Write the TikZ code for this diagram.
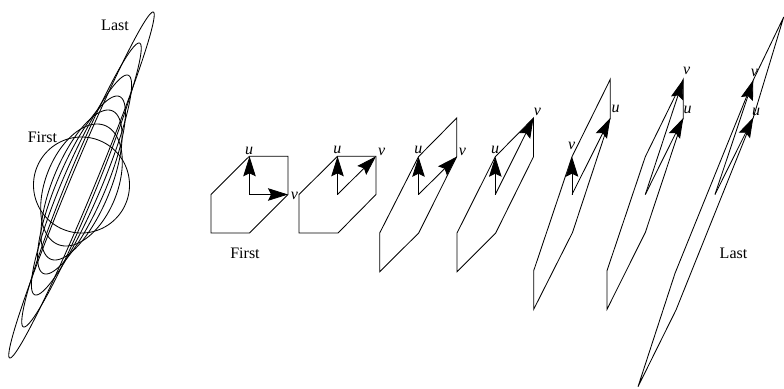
\documentclass[tikz,border=0pt]{standalone}
\usepackage{fontspec}
\setmainfont{Liberation Serif}
\usetikzlibrary{arrows.meta}
\tikzset{
  outline/.style={line width=0.85pt,line join=miter},
  vec/.style={line width=0.85pt,-{Stealth[length=20pt,width=12.5pt,inset=3pt]}},
  lab/.style={inner sep=0pt,font=\fontsize{16}{16}\selectfont},
  vlab/.style={inner sep=0pt,font=\fontsize{16}{16}\selectfont\itshape}
}
\begin{document}
\begin{tikzpicture}[x=1pt,y=-1pt]
\useasboundingbox (0,0) rectangle (784,388);
% ellipses
\foreach \dx/\dy in {0/48,15.5/61,26.5/75,35.5/89,45.5/110,57.5/142,71.5/173}{
  \pgfmathsetmacro{\bb}{2304/\dy}
  \draw[outline] plot[domain=0:360,samples=180,variable=\t]
    ({81.5+\dx*cos(\t)+\bb*sin(\t)},{185-\dy*cos(\t)}) -- cycle;
}
\node[lab] (firstL) at (42.5,137) {First};
\node[lab] (lastL) at (115,25.5) {Last};
\node[lab] (firstR) at (245,253.5) {First};
\node[lab] (lastR) at (733.5,253.5) {Last};
% hexagons
\draw[outline] (249.3,156.3)--(288,156.3)--(288,194.5)--(249.5,233)--(211,233)--(211,194.5)--cycle;
\draw[outline] (337.5,156.3)--(376,156.3)--(376,194.5)--(338,233)--(299,233)--(299,194.5)--cycle;
\draw[outline] (456.7,118)--(456.7,156.7)--(418.7,233)--(379.7,271.7)--(379.7,233)--(418.5,156.7)--cycle;
\draw[outline] (533.5,118)--(533.5,156.7)--(495.7,233)--(457,271.7)--(457,233)--(495.3,156.7)--cycle;
\draw[outline] (610.3,79.3)--(610.3,118)--(572.5,232.5)--(533.7,309.3)--(533.7,270.7)--(572,156.7)--cycle;
\draw[outline] (683.3,79.3)--(683.3,118)--(645.3,232.5)--(607,309.3)--(607,270.7)--(645.3,156.7)--cycle;
\draw[outline] (783.7,17)--(753.3,117.5)--(676,310)--(638,386.7)--(675,273.3)--(753.3,80)--cycle;
% vectors
\foreach \n/\cx/\ux/\uy/\vx/\vy in {
  1/249.5/249.5/156.3/288/194.5,
  2/337.5/337.5/156.3/376/156.3,
  3/418.5/418.5/156.7/456.7/156.7,
  4/495.3/495.3/156.7/533.5/118,
  5/572/572/156.7/610.3/118,
  6/645.3/683.3/118/683.3/79.3,
  7/715/753.3/117.5/753.3/80}{
  \coordinate (c\n) at (\cx,194.5);
  \coordinate (u\n) at (\ux,\uy);
  \coordinate (v\n) at (\vx,\vy);
  \draw[vec] (c\n) -- (u\n);
  \draw[vec] (c\n) -- (v\n);
}
% labels
\node[vlab] (lu1) at (249,151) {u};
\node[vlab] (lv1) at (294.3,196) {v};
\node[vlab] (lu2) at (337.3,150) {u};
\node[vlab] (lv2) at (381.7,152) {v};
\node[vlab] (lu3) at (418.3,150) {u};
\node[vlab] (lv3) at (462.3,152) {v};
\node[vlab] (lu4) at (495,150) {u};
\node[vlab] (lv4) at (537.3,111.7) {v};
\node[vlab] (lv5) at (571.7,145.7) {v};
\node[vlab] (lu5) at (615.7,109.3) {u};
\node[vlab] (lv6) at (686.7,70.7) {v};
\node[vlab] (lu6) at (687.7,110) {u};
\node[vlab] (lv7) at (754.3,72.7) {v};
\node[vlab] (lu7) at (756,112.3) {u};
\end{tikzpicture}
\end{document}
